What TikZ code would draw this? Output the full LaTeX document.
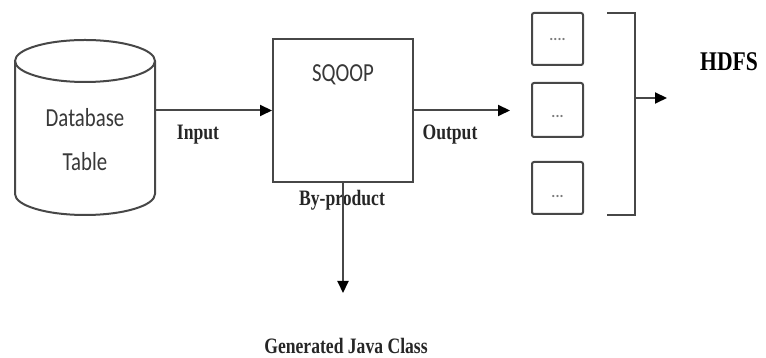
\documentclass[tikz,border=0pt]{standalone}
\usepackage{fontspec}
\setmainfont{Liberation Serif}
\newfontfamily\labelsans{Carlito}
\usetikzlibrary{arrows.meta}

\definecolor{linegray}{HTML}{474747}
\definecolor{dotgray}{HTML}{7A7A7A}

\tikzset{
  wire/.style={draw=linegray, line width=2pt},
  arr/.style={wire, -{Triangle[length=12pt,width=11pt,fill=black,color=black]}},
  boldlabel/.style={font=\fontsize{22}{24}\selectfont\bfseries, text=black!85, xscale=0.8, transform shape, inner sep=0pt},
  sanslabel/.style={font=\labelsans\fontsize{26}{28}\selectfont, text=black!78, xscale=0.8, transform shape, inner sep=0pt},
  block/.style={draw=linegray, line width=2pt, rectangle, inner sep=0pt},
  chunk/.style={draw=linegray, line width=2pt, rectangle, rounded corners=2pt,
    minimum width=51pt, inner sep=0pt},
  dots/.style={font=\labelsans\fontsize{15}{15}\selectfont\bfseries, text=dotgray, inner sep=0pt}
}

\begin{document}
\begin{tikzpicture}[x=1pt,y=1pt]
  \useasboundingbox (0,0) rectangle (766,358);

  % database cylinder
  \node (db) [minimum width=140pt, minimum height=176pt, inner sep=0pt] at (85,230) {};
  \draw[wire, fill=white] (15,297) -- (15,164) arc[start angle=180, end angle=360, x radius=70pt, y radius=21pt] -- (155,297);
  \draw[wire] (85,297) ellipse [x radius=70pt, y radius=21pt];
  \node[sanslabel] (dbname) at (85,240) {Database};
  \node[sanslabel] (dbtable) at (85,196) {Table};

  % SQOOP block
  \node[block, minimum width=140pt, minimum height=143pt] (sq) at (343,247.5) {};
  \node[sanslabel] (sqname) at (343,283) {SQOOP};

  % input / output arrows
  \draw[arr] (db.east |- sq.west) -- (sq.west);
  \node[boldlabel] (inlbl) at (198,223) {Input};
  \coordinate (outtip) at (510,247.5);
  \draw[arr] (sq.east) -- (outtip);
  \node[boldlabel] (outlbl) at (450,223) {Output};

  % by-product branch
  \node[boldlabel] (bylbl) at (342,158) {By-product};
  \coordinate (bytip) at (343,65);
  \draw[arr] (sq.south) -- (bytip);
  \node[boldlabel, anchor=base] (javalbl) at (346,4) {Generated Java Class};

  % output chunks
  \node[chunk, minimum height=52pt] (c1) at (557.5,319) {};
  \node[chunk, minimum height=54pt] (c2) at (557.5,248) {};
  \node[chunk, minimum height=52pt] (c3) at (557.5,170) {};
  \node[dots] (d1) at (557.5,318) {....};
  \node[dots] (d2) at (557.5,241) {...};
  \node[dots] (d3) at (557.5,161) {...};

  % bracket collecting the chunks
  \coordinate (bt) at (607,345);
  \coordinate (bb) at (607,143);
  \coordinate (bmid) at (635,260);
  \coordinate (hdfstip) at (667,260);
  \draw[wire] (bt) -- (635,345) -- (635,143) -- (bb);
  \draw[arr] (bmid) -- (hdfstip);
  \node[boldlabel, font=\fontsize{27}{29}\selectfont\bfseries, text=black] (hdfs) at (729,296) {HDFS};
\end{tikzpicture}
\end{document}
